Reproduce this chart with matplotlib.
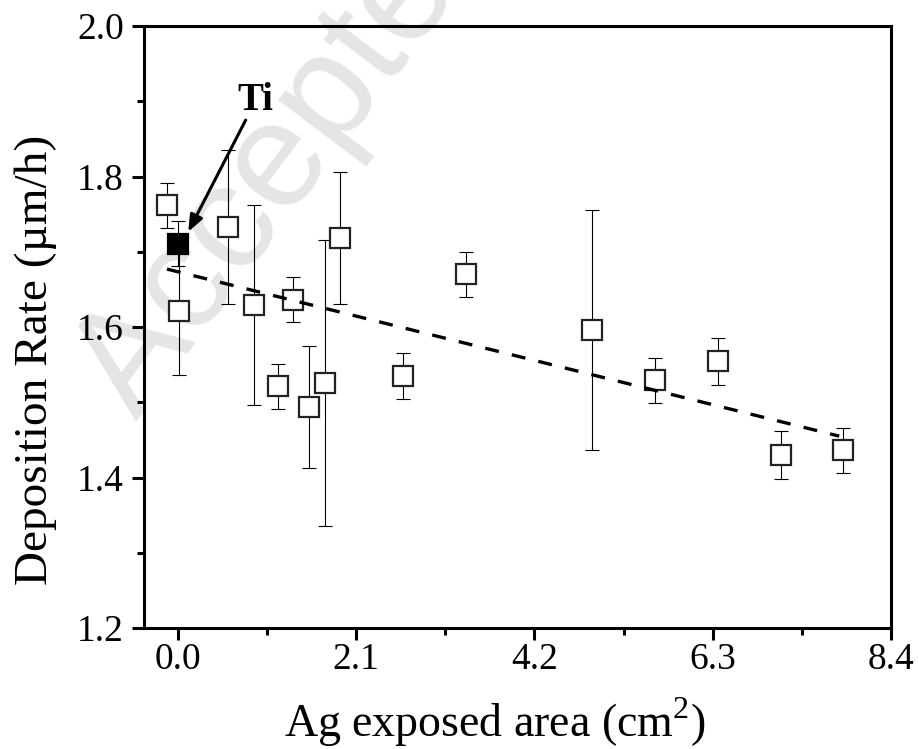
import matplotlib
matplotlib.use('Agg')
import matplotlib.pyplot as plt
from matplotlib.ticker import MultipleLocator, FixedLocator

plt.rcParams['font.family'] = ['Liberation Serif', 'DejaVu Serif']
plt.rcParams['mathtext.fontset'] = 'custom'
plt.rcParams['mathtext.rm'] = 'Liberation Serif'

# Ag samples (open squares)
area = [-0.13, 0.01, 0.59, 0.89, 1.175, 1.36, 1.545, 1.73, 1.91, 2.657,
        3.396, 4.878, 5.62, 6.36, 7.10, 7.84]
rate = [1.762, 1.621, 1.733, 1.629, 1.521, 1.636, 1.494, 1.525, 1.718, 1.535,
        1.670, 1.596, 1.529, 1.5545, 1.4295, 1.436]
err = [0.030, 0.085, 0.102, 0.133, 0.030, 0.030, 0.081, 0.190, 0.088, 0.030,
       0.030, 0.160, 0.030, 0.031, 0.032, 0.030]

# Ti reference (filled square)
ti_area = [0.0]
ti_rate = [1.7105]
ti_err = [0.030]

# trend line end points
trend_x = [-0.13, 7.79]
trend_y = [1.677, 1.455]

fig = plt.figure(figsize=(9.19, 7.49), dpi=100)
ax = fig.add_axes([0.1567, 0.1615, 0.8128, 0.8038])
ax.set_zorder(1)
ax.patch.set_alpha(0)

# watermark, behind the axes
fig.text(0.148, 0.437, 'Accepte', color='#e5e5e5', fontsize=108,
         family='Liberation Sans', rotation=53, rotation_mode='anchor',
         ha='left', va='baseline', zorder=-1)

ax.errorbar(area, rate, yerr=err, fmt='none', ecolor='black', elinewidth=0.8,
            capsize=4.7, capthick=0.8, zorder=2)
ax.errorbar(ti_area, ti_rate, yerr=ti_err, fmt='none', ecolor='black', elinewidth=0.8,
            capsize=4.7, capthick=0.8, zorder=2)
ax.plot(area, rate, 's', ms=14.3, mfc='white', mec='#222222', mew=1.6, zorder=3)
ax.plot(ti_area, ti_rate, 's', ms=14.3, mfc='black', mec='black', mew=1.6, zorder=3)
ax.plot(trend_x, trend_y, color='black', lw=2.4, dashes=(4.2, 4.0), zorder=4)

ax.annotate('', xy=(0.121, 1.7265), xytext=(0.798, 1.875),
            arrowprops=dict(arrowstyle='-|>,head_length=1.0,head_width=0.4',
                            color='black', lw=2.2, shrinkA=0, shrinkB=0))
ax.text(0.908, 1.888, 'Ti', fontsize=28, fontweight='bold', ha='center', va='baseline')

ax.set_xlim(-0.4, 8.4)
ax.set_ylim(1.2, 2.0)
ax.xaxis.set_major_locator(FixedLocator([0.0, 2.1, 4.2, 6.3, 8.4]))
ax.xaxis.set_minor_locator(FixedLocator([1.05, 3.15, 5.25, 7.35]))
ax.set_xticklabels(['0.0', '2.1', '4.2', '6.3', '8.4'])
ax.yaxis.set_major_locator(MultipleLocator(0.2))
ax.yaxis.set_minor_locator(MultipleLocator(0.1))
ax.yaxis.set_major_formatter(matplotlib.ticker.FormatStrFormatter('%.1f'))

for s in ax.spines.values():
    s.set_linewidth(2.2)
ax.tick_params(which='both', direction='out', width=2.2, top=False, right=False)
ax.tick_params(which='major', length=8.6, labelsize=27)
ax.tick_params(axis='x', which='major', pad=2)
ax.tick_params(axis='y', which='major', pad=6)
ax.tick_params(which='minor', length=5)

ax.set_xlabel('Ag exposed area (cm$^{2}$)', fontsize=33, va='baseline')
ax.xaxis.set_label_coords(0.47, -0.181)
ax.set_ylabel('Deposition Rate (µm/h)', fontsize=34)
ax.yaxis.set_label_coords(-0.116, 0.445)

fig.savefig('out.png', dpi=100)
